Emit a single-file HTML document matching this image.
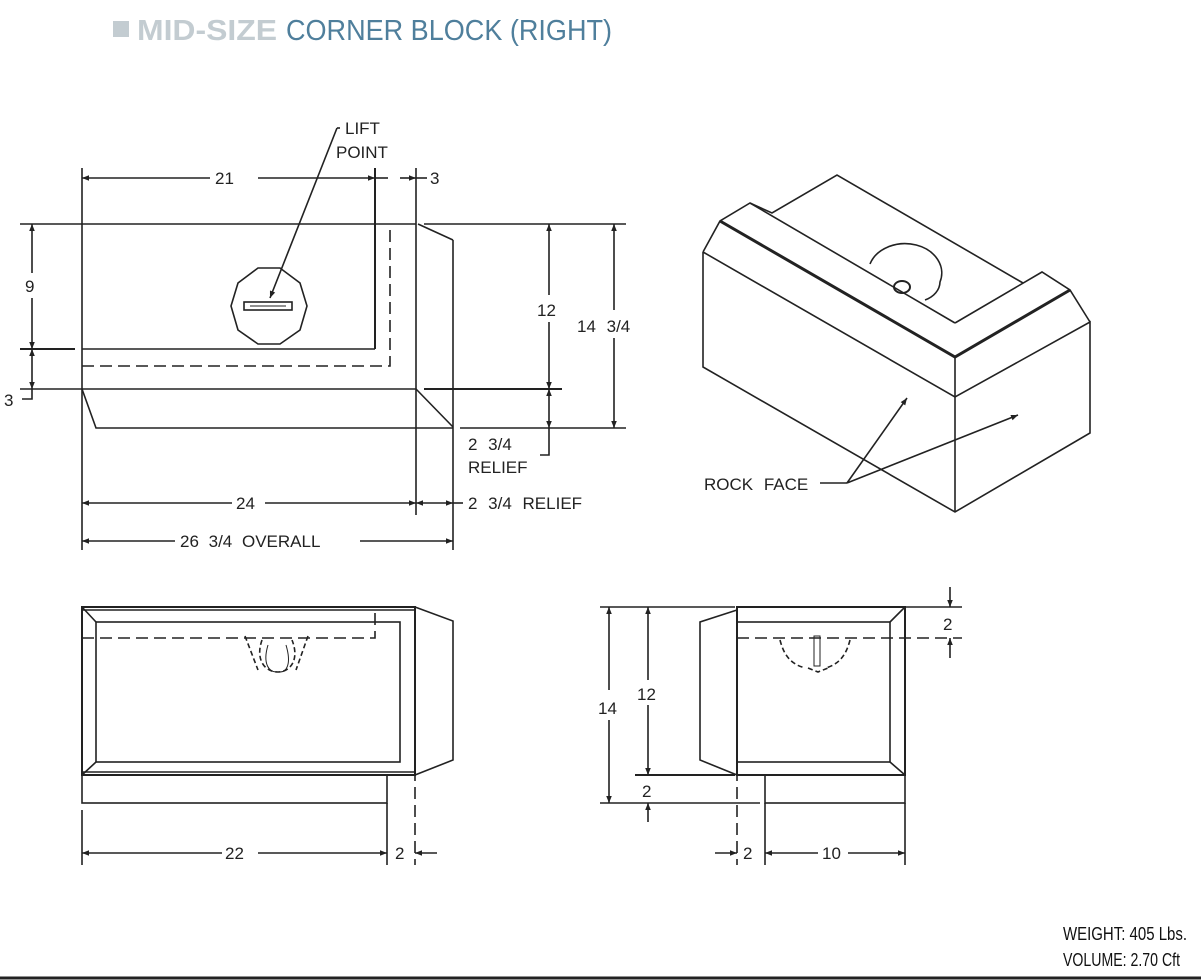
<!DOCTYPE html>
<html><head><meta charset="utf-8"><style>
body{margin:0;background:#fff;}
svg{display:block}
text{font-family:"Liberation Sans",sans-serif;fill:#222}
</style></head><body>
<svg width="1201" height="980" viewBox="0 0 1201 980" xmlns="http://www.w3.org/2000/svg">
<defs>
<marker id="a" viewBox="0 0 10 10" refX="10" refY="5" markerWidth="13" markerHeight="7" orient="auto-start-reverse" markerUnits="userSpaceOnUse"><path d="M0,1 L10,5 L0,9z" fill="#222"/></marker>
</defs>
<rect x="113" y="21" width="16" height="16" fill="#c3ccd1"/>
<text x="137" y="40" style="font-size:29px;font-weight:bold;fill:#c3ccd1" textLength="140" lengthAdjust="spacingAndGlyphs">MID-SIZE</text>
<text x="286" y="40" style="font-size:29px;fill:#4f7f9c" textLength="326" lengthAdjust="spacingAndGlyphs">CORNER BLOCK (RIGHT)</text>

<g stroke="#222" stroke-width="1.6" fill="none">
<!-- top-left view -->
<line x1="82" y1="168" x2="82" y2="550"/>
<line x1="416" y1="168" x2="416" y2="515"/>
<line x1="20" y1="224" x2="416" y2="224"/>
<line x1="424" y1="224" x2="626" y2="224"/>
<line x1="418" y1="224" x2="453" y2="240"/>
<line x1="453" y1="240" x2="453" y2="550"/>
<line x1="20" y1="349" x2="75" y2="349" stroke-width="2"/>
<line x1="82" y1="349" x2="375" y2="349"/>
<line x1="375" y1="168" x2="375" y2="349" stroke-width="2"/>
<path d="M82,366 H390 V224" stroke-dasharray="12,6"/>
<line x1="20" y1="389" x2="416" y2="389"/>
<line x1="424" y1="389" x2="562" y2="389" stroke-width="2"/>
<line x1="416" y1="389" x2="453" y2="427"/>
<path d="M82,389 L96,428 H453"/>
<line x1="460" y1="428" x2="626" y2="428"/>
<polygon points="258,268 280,268 300,283 307,306 300,330 280,344 258,344 238,330 231,306 238,283"/>
<rect x="244" y="302" width="48" height="8"/>
<line x1="250" y1="306" x2="286" y2="306" stroke-width="1"/>
<line x1="340" y1="128" x2="337" y2="128"/>
<line x1="337" y1="128" x2="270" y2="298" marker-end="url(#a)"/>
<!-- dims -->
<line x1="82" y1="178" x2="210" y2="178" marker-start="url(#a)"/>
<line x1="258" y1="178" x2="375" y2="178" marker-end="url(#a)"/>
<line x1="375" y1="178" x2="388" y2="178"/>
<line x1="400" y1="178" x2="416" y2="178" marker-end="url(#a)"/>
<line x1="416" y1="178" x2="427" y2="178"/>
<line x1="32" y1="224" x2="32" y2="273" marker-start="url(#a)"/>
<line x1="32" y1="298" x2="32" y2="349" marker-end="url(#a)"/>
<line x1="32" y1="349" x2="32" y2="389" marker-start="url(#a)" marker-end="url(#a)"/>
<path d="M32,389 V399 H22"/>
<line x1="549" y1="224" x2="549" y2="295" marker-start="url(#a)"/>
<line x1="549" y1="322" x2="549" y2="389" marker-end="url(#a)"/>
<line x1="549" y1="389" x2="549" y2="428" marker-start="url(#a)" marker-end="url(#a)"/>
<path d="M549,428 V455 H540"/>
<line x1="614" y1="224" x2="614" y2="310" marker-start="url(#a)"/>
<line x1="614" y1="338" x2="614" y2="428" marker-end="url(#a)"/>
<line x1="82" y1="503" x2="232" y2="503" marker-start="url(#a)"/>
<line x1="265" y1="503" x2="416" y2="503" marker-end="url(#a)"/>
<line x1="416" y1="503" x2="453" y2="503" marker-start="url(#a)" marker-end="url(#a)"/>
<line x1="453" y1="503" x2="463" y2="503"/>
<line x1="82" y1="541" x2="175" y2="541" marker-start="url(#a)"/>
<line x1="360" y1="541" x2="453" y2="541" marker-end="url(#a)"/>

<!-- iso view -->
<path d="M703,252 L720,221 L750,203 L772,213 L837,175 L1023,283"/>
<line x1="750" y1="203" x2="955" y2="323"/>
<path d="M955,323 L1042,272 L1070,290 L1090,322"/>
<path d="M720,221 L955,357 L1070,290" stroke-width="3"/>
<path d="M703,252 V367 L955,512 L1090,433 V322 L955,397 L703,252"/>
<line x1="955" y1="357" x2="955" y2="512"/>
<path d="M870,264 A35,28 0 0 1 940,282 A25,20 0 0 1 925,300"/>
<ellipse cx="902" cy="287" rx="8" ry="6" stroke-width="2"/>
<line x1="820" y1="483" x2="847" y2="483"/>
<line x1="847" y1="483" x2="907" y2="398" marker-end="url(#a)"/>
<line x1="847" y1="483" x2="1018" y2="415" marker-end="url(#a)"/>

<!-- bottom-left view -->
<rect x="82" y="607" width="333" height="168" stroke-width="2"/>
<path d="M82,610 H415 M82,772 H415"/>
<rect x="96" y="622" width="304" height="140"/>
<line x1="82" y1="607" x2="96" y2="622"/><line x1="82" y1="775" x2="96" y2="762"/>
<path d="M415,607 L453,621 V760 L415,775"/>
<line x1="415" y1="607" x2="415" y2="865" stroke-dasharray="12,6"/>
<path d="M82,638 H375 V607" stroke-dasharray="12,6"/>
<path d="M245,636 L258,670 M308,636 L296,670 M262,640 C255,660 265,672 278,672 C290,672 300,660 292,640" stroke-dasharray="5,3"/>
<path d="M268,645 C262,665 270,672 276,672 M286,645 C292,665 286,672 280,672" stroke-width="1"/>
<rect x="82" y="775" width="305" height="28"/>
<line x1="82" y1="810" x2="82" y2="865"/>
<line x1="387" y1="803" x2="387" y2="865"/>
<line x1="82" y1="853" x2="222" y2="853" marker-start="url(#a)"/>
<line x1="258" y1="853" x2="387" y2="853" marker-end="url(#a)"/>
<line x1="415" y1="853" x2="437" y2="853" marker-start="url(#a)"/>

<!-- bottom-right view -->
<rect x="737" y="607" width="168" height="168" stroke-width="2"/>
<rect x="737" y="622" width="153" height="140"/>
<line x1="905" y1="607" x2="890" y2="622"/><line x1="905" y1="775" x2="890" y2="762"/>
<path d="M737,610 L700,622 V760 L737,775"/>
<line x1="737" y1="607" x2="737" y2="865" stroke-dasharray="12,6"/>
<line x1="737" y1="638" x2="962" y2="638" stroke-dasharray="12,6"/>
<path d="M780,640 C785,660 795,665 805,668 M850,640 C845,660 835,665 826,668 M808,668 L818,672 L828,668" stroke-dasharray="5,3"/>
<rect x="814" y="636" width="6" height="30" stroke-width="1"/>
<rect x="765" y="775" width="140" height="28"/>
<line x1="600" y1="607" x2="735" y2="607"/>
<line x1="635" y1="775" x2="735" y2="775" stroke-width="2"/>
<line x1="600" y1="803" x2="760" y2="803"/>
<line x1="905" y1="607" x2="962" y2="607"/>
<line x1="609" y1="607" x2="609" y2="690" marker-start="url(#a)"/>
<line x1="609" y1="720" x2="609" y2="803" marker-end="url(#a)"/>
<line x1="648" y1="607" x2="648" y2="680" marker-start="url(#a)"/>
<line x1="648" y1="705" x2="648" y2="775" marker-end="url(#a)"/>
<line x1="648" y1="822" x2="648" y2="803" marker-end="url(#a)"/>
<line x1="950" y1="587" x2="950" y2="607" marker-end="url(#a)"/>
<line x1="950" y1="658" x2="950" y2="638" marker-end="url(#a)"/>
<line x1="765" y1="803" x2="765" y2="865"/>
<line x1="905" y1="803" x2="905" y2="865"/>
<line x1="715" y1="853" x2="737" y2="853" marker-end="url(#a)"/>
<line x1="765" y1="853" x2="818" y2="853" marker-start="url(#a)"/>
<line x1="848" y1="853" x2="905" y2="853" marker-end="url(#a)"/>
<line x1="0" y1="978" x2="1201" y2="978" stroke-width="3"/>
</g>

<g style="font-size:17px">
<text x="345" y="134">LIFT</text>
<text x="336" y="158">POINT</text>
<text x="215" y="184">21</text>
<text x="430" y="184">3</text>
<text x="25" y="292">9</text>
<text x="4" y="406">3</text>
<text x="537" y="316">12</text>
<text x="577" y="332" style="word-spacing:6px">14 3/4</text>
<text x="468" y="450" style="word-spacing:6px">2 3/4</text>
<text x="468" y="473">RELIEF</text>
<text x="236" y="509">24</text>
<text x="468" y="509" style="word-spacing:6px">2 3/4 RELIEF</text>
<text x="180" y="547" style="word-spacing:5px">26 3/4 OVERALL</text>
<text x="704" y="490" style="word-spacing:6px">ROCK FACE</text>
<text x="225" y="859">22</text>
<text x="395" y="859">2</text>
<text x="598" y="714">14</text>
<text x="637" y="700">12</text>
<text x="642" y="797">2</text>
<text x="943" y="630">2</text>
<text x="743" y="859">2</text>
<text x="822" y="859">10</text>
</g>
<text x="1063" y="940" style="font-size:18px;fill:#111" textLength="124" lengthAdjust="spacingAndGlyphs">WEIGHT:  405 Lbs.</text>
<text x="1063" y="966" style="font-size:18px;fill:#111" textLength="117" lengthAdjust="spacingAndGlyphs">VOLUME:  2.70 Cft</text>
</svg>
</body></html>
